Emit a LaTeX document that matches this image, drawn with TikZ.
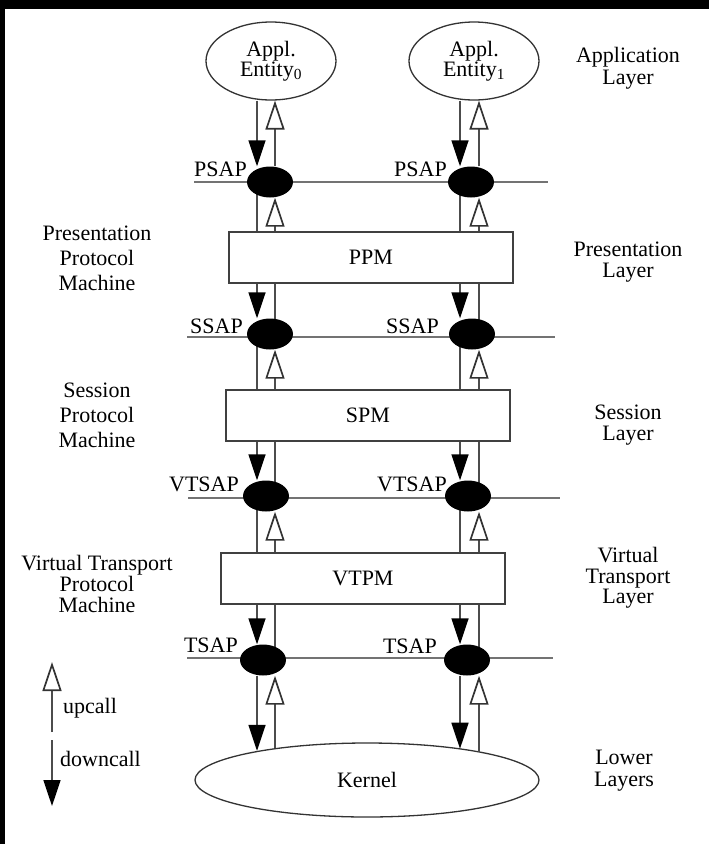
\documentclass[tikz,border=0pt]{standalone}
\usepackage{fontspec}
\setmainfont{Liberation Serif}
\usetikzlibrary{arrows.meta,shapes.geometric}
\pgfdeclarelayer{paper}
\pgfdeclarelayer{back}
\pgfsetlayers{paper,back,main}

\tikzset{
  txt/.style={font=\fontsize{22}{21}\selectfont, inner sep=0pt, align=center},
  ent/.style={ellipse, draw=black!80, line width=1.3pt, fill=white,
    minimum width=130pt, minimum height=78pt, inner sep=0pt, align=center,
    font=\fontsize{22}{20}\selectfont},
  sap/.style={ellipse, fill=black, minimum width=46pt, minimum height=31pt, inner sep=0pt},
  pm/.style={rectangle, draw=black!75, line width=1.6pt, fill=white,
    minimum width=284pt, minimum height=51pt, inner sep=0pt,
    font=\fontsize{22}{21}\selectfont},
  kern/.style={ellipse, draw=black!80, line width=1.3pt, fill=white,
    minimum width=344pt, minimum height=74pt, inner sep=0pt,
    font=\fontsize{22}{21}\selectfont},
  sapline/.style={draw=black!55, line width=2pt},
  vline/.style={draw=black!70, line width=1.7pt},
  dn/.style={vline, -{Triangle[length=26pt,width=17pt,color=black,fill=black]}},
  upa/.style={vline, -{Triangle[length=29pt,width=19pt,color=black!80,fill=white]}},
  saplbl/.style={txt, anchor=base east},
}

\begin{document}
\begin{tikzpicture}[x=1pt,y=-1pt]
\useasboundingbox (0,0) rectangle (709,844);
\begin{pgfonlayer}{paper}
  \fill[black] (0,0) rectangle (709,844);
  \fill[white] (5,9) rectangle (709,844);
\end{pgfonlayer}

% columns of the call paths
\coordinate (d1) at (257,0);
\coordinate (u1) at (275,0);
\coordinate (d2) at (460,0);
\coordinate (u2) at (479,0);

% entities, protocol machines, service access points
\node[ent] (E0) at (271,61) {Appl.\\Entity\textsubscript{0}};
\node[ent] (E1) at (474,61) {Appl.\\Entity\textsubscript{1}};
\node[sap] (P0) at (270,182) {};
\node[sap] (P1) at (471,182) {};
\node[pm] (PPM) at (371,257.5) {PPM};
\node[sap] (S0) at (270,334) {};
\node[sap] (S1) at (472,334) {};
\node[pm] (SPM) at (368,415.5) {SPM};
\node[sap] (V0) at (266,496) {};
\node[sap] (V1) at (468,496) {};
\node[pm] (VTPM) at (363,578.5) {VTPM};
\node[sap] (T0) at (263,660) {};
\node[sap] (T1) at (467,660) {};
\node[kern] (K) at (367,780) {Kernel};

% SAP labels
\node[saplbl] (pl0) at (247,176) {PSAP};
\node[saplbl] (pl1) at (447,176) {PSAP};
\node[saplbl] (sl0) at (243,333) {SSAP};
\node[saplbl] (sl1) at (439,333) {SSAP};
\node[saplbl] (vl0) at (239,491) {VTSAP};
\node[saplbl] (vl1) at (447,491) {VTSAP};
\node[saplbl] (tl0) at (238,652) {TSAP};
\node[saplbl] (tl1) at (437,653) {TSAP};

% machine names on the left
\node[txt, font=\fontsize{22}{25}\selectfont] (ppmname) at (97,258) {Presentation\\Protocol\\Machine};
\node[txt, font=\fontsize{22}{25}\selectfont] (spmname) at (97,415) {Session\\Protocol\\Machine};
\node[txt, font=\fontsize{22}{21}\selectfont] (vtpmname) at (97,584) {Virtual Transport\\Protocol\\Machine};

% layer names on the right
\node[txt, font=\fontsize{22}{22}\selectfont] (appl) at (628,68) {Application\\Layer};
\node[txt, font=\fontsize{22}{20.5}\selectfont] (presl) at (628,262) {Presentation\\Layer};
\node[txt, font=\fontsize{22}{21}\selectfont] (sesl) at (628,425) {Session\\Layer};
\node[txt, font=\fontsize{22}{20.5}\selectfont] (vtl) at (628,578) {Virtual\\Transport\\Layer};
\node[txt, font=\fontsize{22}{22}\selectfont] (lowl) at (624,771) {Lower\\Layers};

% SAP lines and plain call lines, behind the SAP dots
\coordinate (psl) at (194,182); \coordinate (psr) at (548,182);
\coordinate (ssl) at (187,337); \coordinate (ssr) at (555,337);
\coordinate (vsl) at (188,498); \coordinate (vsr) at (560,498);
\coordinate (tsl) at (187,658); \coordinate (tsr) at (553,658);
\begin{pgfonlayer}{back}
  \draw[sapline] (psl) -- (psr);
  \draw[sapline] (ssl) -- (ssr);
  \draw[sapline] (vsl) -- (vsr);
  \draw[sapline] (tsl) -- (tsr);
  \foreach \d/\u/\p/\s/\v/\t in {d1/u1/P0/S0/V0/T0, d2/u2/P1/S1/V1/T1} {
    \draw[vline] (\p -| \d) -- (PPM.north -| \d);
    \draw[vline] (\s -| \u) -- (PPM.south -| \u);
    \draw[vline] (\s -| \d) -- (SPM.north -| \d);
    \draw[vline] (\v -| \u) -- (SPM.south -| \u);
    \draw[vline] (\v -| \d) -- (VTPM.north -| \d);
    \draw[vline] (\t -| \u) -- (VTPM.south -| \u);
  }
\end{pgfonlayer}

% downcalls and upcalls
\foreach \d/\u/\e/\p/\s/\v/\t/\kd/\ku in {d1/u1/E0/P0/S0/V0/T0/165.5/161.2, d2/u2/E1/P1/S1/V1/T1/18.5/14.1} {
  \draw[dn]  (\e.south -| \d) -- (\p.north -| \d);
  \draw[upa] (\p.north -| \u) -- (\e.south -| \u);
  \draw[upa] (PPM.north -| \u) -- (\p.south -| \u);
  \draw[dn]  (PPM.south -| \d) -- (\s.north -| \d);
  \draw[upa] (SPM.north -| \u) -- (\s.south -| \u);
  \draw[dn]  (SPM.south -| \d) -- (\v.north -| \d);
  \draw[upa] (VTPM.north -| \u) -- (\v.south -| \u);
  \draw[dn]  (VTPM.south -| \d) -- (\t.north -| \d);
  \draw[dn]  (\t.south -| \d) -- (K.\kd -| \d);
  \draw[upa] (K.\ku -| \u) -- (\t.south -| \u);
}

% legend
\coordinate (upb) at (52,732); \coordinate (upt) at (52,662);
\coordinate (dnt) at (52,740); \coordinate (dnb) at (52,806);
\draw[upa] (upb) -- (upt);
\draw[dn] (dnt) -- (dnb);
\node[txt, anchor=base west] (upcall) at (63,713) {upcall};
\node[txt, anchor=base west] (downcall) at (60,766) {downcall};
\end{tikzpicture}
\end{document}
